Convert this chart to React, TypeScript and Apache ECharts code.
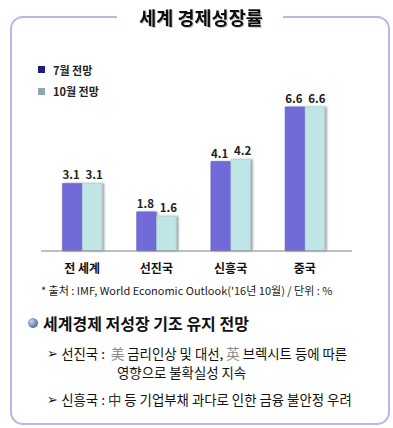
import React, { useEffect, useRef } from "react";
import * as echarts from "echarts";

const categories = ["전 세계", "선진국", "신흥국", "중국"];
const seriesNames = ["7월 전망", "10월 전망"];
const julyValues = [3.1, 1.8, 4.1, 6.6];
const octValues = [3.1, 1.6, 4.2, 6.6];

const FONT = "'Noto Sans CJK KR', 'Noto Sans', sans-serif";

export default function App() {
  const ref = useRef<HTMLDivElement>(null);
  useEffect(() => {
    if (!ref.current) return;
    const chart = echarts.init(ref.current, null, { renderer: "svg" });
    const barLabel = (dx: number) => ({
      show: true,
      position: "top" as const,
      distance: 3,
      offset: [dx, 0],
      fontSize: 11.5,
      fontWeight: "bold" as const,
      color: "#222",
      fontFamily: FONT,
    });
    chart.setOption({
      animation: false,
      backgroundColor: "#ffffff",
      textStyle: { fontFamily: FONT },
      grid: { left: 45, right: 51, top: 76, bottom: 177 },
      legend: {
        orient: "vertical",
        left: 33,
        top: 59,
        itemWidth: 7,
        itemHeight: 7,
        itemGap: 11,
        icon: "rect",
        selectedMode: false,
        textStyle: {
          fontSize: 11,
          fontWeight: "bold",
          color: "#222",
          fontFamily: FONT,
          padding: [0, 0, 0, 3],
        },
        data: [
          { name: seriesNames[0], itemStyle: { color: "#1e1e78", borderWidth: 0, shadowBlur: 0 } },
          { name: seriesNames[1], itemStyle: { color: "#8fa8b0", borderWidth: 0, shadowBlur: 0 } },
        ],
      },
      xAxis: {
        type: "category",
        data: categories,
        axisLine: { show: false },
        axisTick: { show: false },
        axisLabel: {
          margin: 10,
          fontSize: 12,
          fontWeight: "bold",
          color: "#111",
          fontFamily: FONT,
        },
      },
      yAxis: { type: "value", min: 0, max: 8, show: false, splitLine: { show: false } },
      series: [
        {
          name: seriesNames[0],
          type: "bar",
          data: julyValues,
          barWidth: 20,
          barGap: "0%",
          itemStyle: {
            color: "#716bd9",
            borderColor: "#5a55bd",
            borderWidth: 0.5,
            shadowColor: "rgba(0,0,0,0.35)",
            shadowOffsetX: 1.5,
            shadowBlur: 2,
          },
          label: barLabel(-1),
        },
        {
          name: seriesNames[1],
          type: "bar",
          data: octValues,
          barWidth: 20,
          itemStyle: {
            color: "#bfe5e7",
            borderColor: "#9cc8cc",
            borderWidth: 0.5,
            shadowColor: "rgba(0,0,0,0.4)",
            shadowOffsetX: 2,
            shadowBlur: 2,
          },
          label: barLabel(2),
        },
      ],
      graphic: [
        {
          type: "rect",
          shape: { x: 11, y: 17, width: 378, height: 407, r: 12 },
          style: { fill: "none", stroke: "#b8b8e8", lineWidth: 2 },
          z: 1,
        },
        {
          type: "rect",
          shape: { x: 117, y: 10, width: 166, height: 14 },
          style: { fill: "#ffffff" },
          z: 2,
        },
        {
          type: "text",
          x: 201,
          y: 17,
          style: {
            text: "세계 경제성장률",
            fontSize: 18.5,
            fontWeight: "bold",
            fontFamily: FONT,
            fill: "#111",
            align: "center",
            verticalAlign: "middle",
            textShadowColor: "rgba(0,0,0,0.25)",
            textShadowOffsetX: 1,
            textShadowOffsetY: 1,
            textShadowBlur: 1,
          },
          z: 3,
        },
        {
          type: "line",
          shape: { x1: 41, y1: 251, x2: 352, y2: 251 },
          style: { stroke: "#808080", lineWidth: 1 },
          z: 3,
        },
        {
          type: "text",
          x: 41,
          y: 290,
          style: {
            text: "* 출처 : IMF, World Economic Outlook('16년 10월) / 단위 : %",
            fontSize: 11,
            fontFamily: FONT,
            fill: "#222",
            verticalAlign: "middle",
          },
          z: 3,
        },
        {
          type: "circle",
          shape: { cx: 33, cy: 323, r: 5 },
          style: {
            fill: {
              type: "radial",
              x: 0.35,
              y: 0.35,
              r: 0.7,
              colorStops: [
                { offset: 0, color: "#c8d6ec" },
                { offset: 1, color: "#4a6a9c" },
              ],
            },
          },
          z: 3,
        },
        {
          type: "text",
          x: 43,
          y: 323,
          style: {
            text: "세계경제 저성장 기조 유지 전망",
            fontSize: 16,
            fontWeight: "bold",
            fontFamily: FONT,
            fill: "#111",
            verticalAlign: "middle",
          },
          z: 3,
        },
        {
          type: "text",
          x: 47,
          y: 353,
          style: {
            text: "{a|➢} {b|선진국 :  }{g|美}{b| 금리인상 및 대선, }{g|英}{b| 브렉시트 등에 따른}",
            verticalAlign: "middle",
            rich: {
              a: { fontFamily: "'DejaVu Sans'", fontSize: 13, fill: "#111" },
              b: { fontFamily: FONT, fontSize: 13.4, fill: "#111" },
              g: { fontFamily: FONT, fontSize: 13.4, fill: "#888" },
            },
          },
          z: 3,
        },
        {
          type: "text",
          x: 117,
          y: 372,
          style: {
            text: "영향으로 불확실성 지속",
            fontFamily: FONT,
            fontSize: 13.4,
            fill: "#111",
            verticalAlign: "middle",
          },
          z: 3,
        },
        {
          type: "text",
          x: 47,
          y: 399,
          style: {
            text: "{a|➢} {b|신흥국 : }{g|中}{b| 등 기업부채 과다로 인한 금융 불안정 우려}",
            verticalAlign: "middle",
            rich: {
              a: { fontFamily: "'DejaVu Sans'", fontSize: 13, fill: "#111" },
              b: { fontFamily: FONT, fontSize: 13.4, fill: "#111" },
              g: { fontFamily: FONT, fontSize: 13.4, fill: "#333" },
            },
          },
          z: 3,
        },
      ],
    });
    return () => chart.dispose();
  }, []);
  return (
    <div
      ref={ref}
      style={{ position: "fixed", left: 0, top: 0, width: 393, height: 428 }}
    />
  );
}
